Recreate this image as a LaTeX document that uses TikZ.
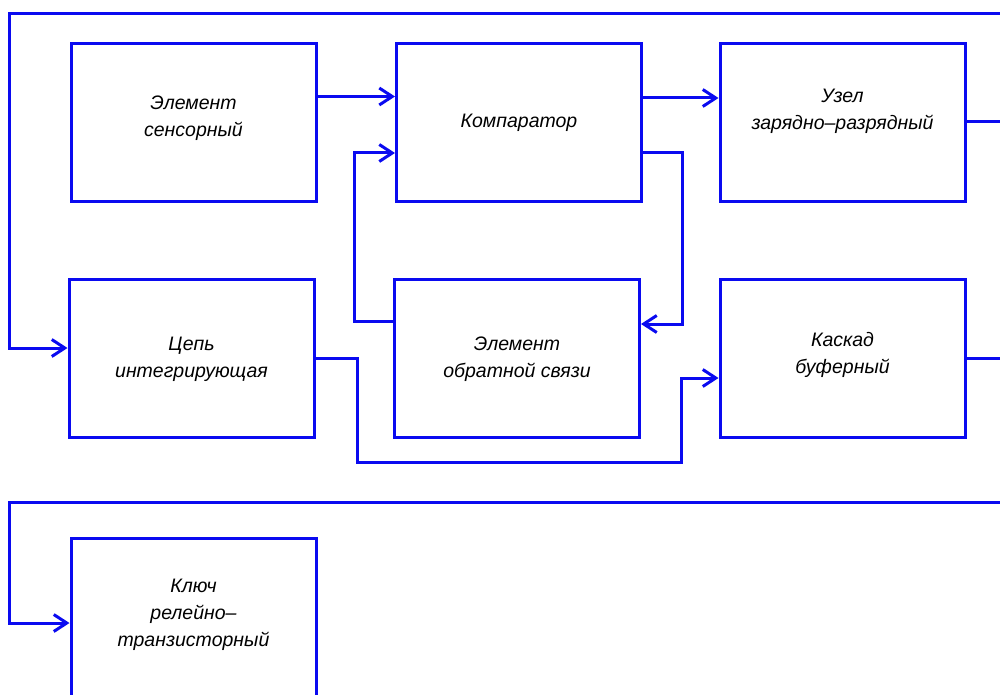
\documentclass[tikz,border=0pt]{standalone}
\usepackage{fontspec}
\setmainfont{Liberation Sans}
\usetikzlibrary{arrows.meta}
\definecolor{sin}{RGB}{10,10,240}
\newcommand{\tekst}[2]{\raisebox{#1}[\height][\depth]{\parbox{240pt}{\centering\fontsize{19.5}{27}\selectfont\itshape #2}}}
\tikzset{
  blok/.style={draw=sin,line width=3pt,minimum width=245pt,minimum height=158pt,inner sep=0pt},
  linia/.style={draw=sin,line width=3pt}
}
\begin{document}
\begin{tikzpicture}[x=1pt,y=-1pt,>={Straight Barb[length=13pt,width=17pt]}]
  \clip (0,0) rectangle (1000,695);
  \node[blok] (sens) at (193.5,122.5) {\tekst{4pt}{Элемент\\сенсорный}};
  \node[blok] (komp) at (519,122.5) {\tekst{0pt}{Компаратор}};
  \node[blok] (uzel) at (842.5,122.5) {\tekst{11pt}{Узел\\зарядно--разрядный}};
  \node[blok] (cep) at (191.5,358) {\tekst{-1pt}{Цепь\\интегрирующая}};
  \node[blok] (obr) at (517,358) {\tekst{-1pt}{Элемент\\обратной связи}};
  \node[blok] (kask) at (842.5,358) {\tekst{3pt}{Каскад\\буферный}};
  \node[blok,minimum height=170pt] (klyuch) at (193.5,623) {\tekst{8pt}{Ключ\\релейно--\\транзисторный}};
  \coordinate (verhR) at (1000,14);
  \coordinate (nizR) at (1000,502);
  \coordinate (uzelR) at (1000,122);
  \coordinate (kaskR) at (1000,358);
  % pryamye svyazi
  \draw[linia,->] ([yshift=26pt]sens.east) -- ([yshift=26pt]komp.west);
  \draw[linia,->] ([yshift=24.5pt]komp.east) -- ([yshift=24.5pt]uzel.west);
  \draw[linia,->] ([yshift=-30.5pt]komp.east) -- ++(39,0) |- ([yshift=34pt]obr.east);
  \draw[linia,->] ([yshift=37pt]obr.west) -- ++(-39,0) |- ([yshift=-30.5pt]komp.west);
  \draw[linia,->] (cep.east) -- ++(42,0) -- ++(0,104) -- ++(324,0)
    |- ([yshift=-20pt]kask.west);
  \draw[linia] (uzel.east |- uzelR) -- (uzelR);
  \draw[linia] (kask.east) -- (kaskR);
  % obratnye svyazi
  \draw[linia,->] (verhR) -| ([xshift=-58pt,yshift=10pt]cep.west) -- ([yshift=10pt]cep.west);
  \draw[linia,->] (nizR) -| ([xshift=-60pt]klyuch.west) -- (klyuch.west);
\end{tikzpicture}
\end{document}
